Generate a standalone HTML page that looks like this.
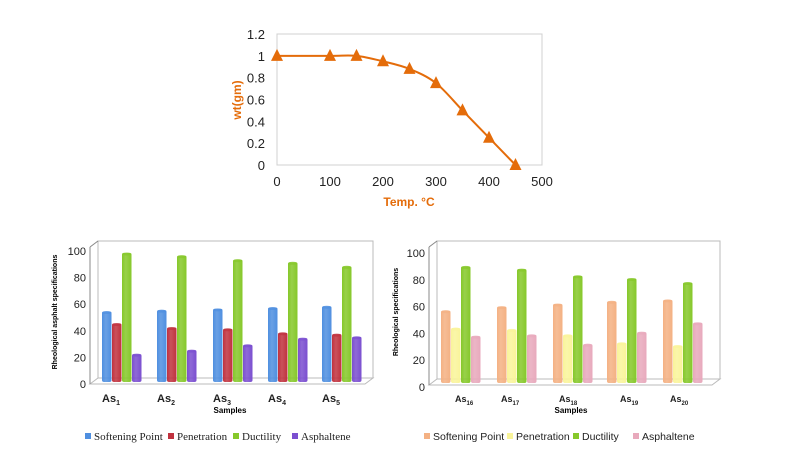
<!DOCTYPE html>
<html><head><meta charset="utf-8"><style>
body{margin:0;background:#fff;}
svg{display:block}
</style></head><body>
<svg id="s" width="792" height="473" xmlns="http://www.w3.org/2000/svg" font-family="Liberation Sans, sans-serif"></svg>
<script>
const s=document.getElementById('s');let h='';
const X=v=>277+v*(265/500), Y=v=>165-v*(131/1.2);
h+=`<rect x="277" y="34" width="265" height="131" fill="none" stroke="#d0d0d0"/>`;
for(let i=0;i<=6;i++){const v=i*0.2;h+=`<text x="265" y="${Y(v)+5}" font-size="13" text-anchor="end" fill="#222">${+v.toFixed(1)}</text>`;}
for(let i=0;i<=5;i++){h+=`<text x="${X(i*100)}" y="186" font-size="13" text-anchor="middle" fill="#222">${i*100}</text>`;}
h+=`<text x="409" y="206" font-size="12" font-weight="bold" text-anchor="middle" fill="#E46C0A">Temp. °C</text>`;
h+=`<text transform="translate(241,100) rotate(-90)" font-size="12" font-weight="bold" text-anchor="middle" fill="#E46C0A">wt(gm)</text>`;
const pts=[[0,1],[100,1],[150,1],[200,.95],[250,.88],[300,.75],[350,.5],[400,.25],[450,0]];
const P=pts.map(p=>[X(p[0]),Y(p[1])]);
let d=`M${P[0][0]},${P[0][1]}`;
for(let i=0;i<P.length-1;i++){const p0=P[Math.max(0,i-1)],p1=P[i],p2=P[i+1],p3=P[Math.min(P.length-1,i+2)];
 const c1x=p1[0]+(p2[0]-p0[0])/6,c1y=p1[1]+(p2[1]-p0[1])/6,c2x=p2[0]-(p3[0]-p1[0])/6,c2y=p2[1]-(p3[1]-p1[1])/6;
 d+=` C${c1x},${c1y} ${c2x},${c2y} ${p2[0]},${p2[1]}`;}
h+=`<path d="${d}" fill="none" stroke="#E46C0A" stroke-width="2"/>`;
P.forEach(([x,y])=>{h+=`<polygon points="${x-6},${y+5} ${x+6},${y+5} ${x},${y-7}" fill="#E46C0A"/>`;});
function bars(o){
 const {wl,wr,base,scale,starts,data,cols,y0}=o;
 h+=`<polygon points="${wl},241 ${wr},241 ${wr},${base-4} ${wl},${base-4}" fill="#fff" stroke="#bbb"/>`;
 h+=`<polygon points="${wl},${base-4} ${wr},${base-4} ${wr-8},${base+2} ${wl-8},${base+2}" fill="#fff" stroke="#bbb"/>`;
 h+=`<line x1="${wl}" y1="241" x2="${wl-8}" y2="247" stroke="#888"/>`;
 h+=`<line x1="${wl-8}" y1="247" x2="${wl-8}" y2="${base+2}" stroke="#888"/>`;
 for(let i=0;i<=5;i++){h+=`<text x="${wl-12}" y="${y0-i*20*scale+4}" font-size="11" text-anchor="end" fill="#222">${i*20}</text>`;}
 starts.forEach((sx,g)=>{data[g].forEach((v,k)=>{const x=sx+k*10,top=base-v*scale;
  h+=`<rect x="${x}" y="${top}" width="9.5" height="${v*scale}" rx="2" fill="url(#g${cols[k].slice(1)})"/>`;
  h+=`<ellipse cx="${x+4.75}" cy="${top+1}" rx="4.75" ry="1.5" fill="${cols[k]}" opacity=".7"/>`;});});
}
let defs='<defs>';
['#4F8FE0','#C0323E','#86C82A','#7B4FD0','#F4B183','#F9F49A','#E8A9BC'].forEach(c=>{defs+=`<linearGradient id="g${c.slice(1)}"><stop offset="0" stop-color="${c}"/><stop offset=".4" stop-color="${c}" stop-opacity=".85"/><stop offset="1" stop-color="${c}"/></linearGradient>`;});
h=defs+'</defs>'+h;
const c1=['#4F8FE0','#C0323E','#86C82A','#7B4FD0'];
bars({wl:98,wr:373,base:382,scale:1.33,y0:384,starts:[102,157,213,268,322],cols:c1,
 data:[[53,44,97,21],[54,41,95,24],[55,40,92,28],[56,37,90,33],[57,36,87,34]]});
const c2=['#F4B183','#F9F49A','#86C82A','#E8A9BC'];
bars({wl:437,wr:720,base:383,scale:1.34,y0:387,starts:[441,497,553,607,663],cols:c2,
 data:[[54,41,87,35],[57,40,85,36],[59,36,80,29],[61,30,78,38],[62,28,75,45]]});
[[102,'1'],[157,'2'],[213,'3'],[268,'4'],[322,'5']].forEach(([x,n])=>{h+=`<text x="${x}" y="402" font-size="11" font-weight="bold" fill="#222">As<tspan font-size="7" dy="3">${n}</tspan></text>`;});
h+=`<text x="230" y="413" font-size="8" font-weight="bold" text-anchor="middle">Samples</text>`;
h+=`<text transform="translate(57,312) rotate(-90)" font-size="7" font-weight="bold" text-anchor="middle">Rheological asphalt specifications</text>`;
[[455,'16'],[501,'17'],[559,'18'],[620,'19'],[670,'20']].forEach(([x,n])=>{h+=`<text x="${x}" y="402" font-size="9" font-weight="bold" fill="#222">As<tspan font-size="6" dy="3">${n}</tspan></text>`;});
h+=`<text x="571" y="413" font-size="8" font-weight="bold" text-anchor="middle">Samples</text>`;
h+=`<text transform="translate(398,312) rotate(-90)" font-size="7" font-weight="bold" text-anchor="middle">Rheological specifications</text>`;
[[85,'Softening Point'],[168,'Penetration'],[233,'Ductility'],[292,'Asphaltene']].forEach(([x,t],i)=>{
 h+=`<rect x="${x}" y="433" width="6" height="6" fill="${c1[i]}"/><text x="${x+9}" y="440" font-size="11" font-family="Liberation Serif, serif" fill="#222">${t}</text>`;});
[[424,'Softening Point'],[507,'Penetration'],[573,'Ductility'],[633,'Asphaltene']].forEach(([x,t],i)=>{
 h+=`<rect x="${x}" y="433" width="6" height="6" fill="${c2[i]}"/><text x="${x+9}" y="440" font-size="10.5" fill="#222">${t}</text>`;});
s.innerHTML=h;
</script>
</body></html>
